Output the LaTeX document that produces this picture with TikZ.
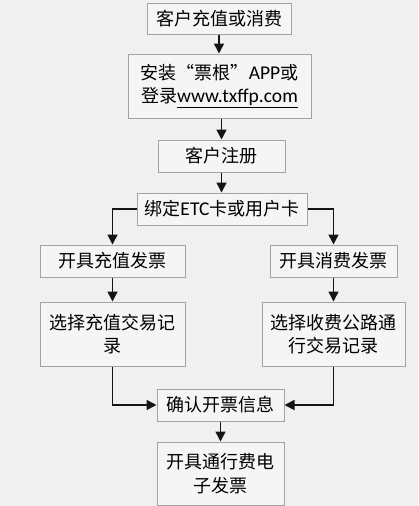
\documentclass[tikz,border=0pt]{standalone}
\usepackage{fontspec}
\setmainfont{Noto Sans CJK SC}
\newfontfamily\lat{Carlito}
\usetikzlibrary{arrows.meta}
\definecolor{bgc}{HTML}{F0F0F0}
\definecolor{boxfill}{HTML}{F5F5F5}
\definecolor{boxline}{HTML}{A3A3A3}
\definecolor{arrc}{HTML}{141414}
\tikzset{
  box/.style={draw=boxline, fill=boxfill, line width=1pt, inner sep=0pt, align=center,
    font=\fontsize{18}{23.5}\selectfont, text=black},
  arr/.style={draw=arrc, line width=1.6pt, -{Triangle[width=10pt,length=10pt]}},
}
\newcommand{\latin}[1]{{\lat\fontsize{19.5}{23.5}\selectfont #1}}
\begin{document}
\begin{tikzpicture}[x=1pt,y=-1pt]
\fill[bgc] (0,0) rectangle (418,506);
\useasboundingbox (0,0) rectangle (418,506);
\node[box, minimum width=144pt, minimum height=31pt] (b1) at (219,18.5) {客户充值或消费};
\node[box, minimum width=183pt, minimum height=64pt] (b2) at (219.5,86) {安装“票根”\latin{APP}或\\登录\underline{\latin{www.txffp.com}}};
\node[box, minimum width=127pt, minimum height=32pt] (b3) at (221.5,156) {客户注册};
\node[box, minimum width=170pt, minimum height=32pt] (b4) at (222,209) {绑定\latin{ETC}卡或用户卡};
\node[box, minimum width=145pt, minimum height=32pt] (b5) at (112.5,261) {开具充值发票};
\node[box, minimum width=127pt, minimum height=32pt] (b6) at (333.5,261) {开具消费发票};
\node[box, minimum width=145pt, minimum height=64pt] (b7) at (112.5,334) {选择充值交易记\\录};
\node[box, minimum width=143pt, minimum height=64pt] (b8) at (333.5,334) {选择收费公路通\\行交易记录};
\node[box, minimum width=127pt, minimum height=32pt] (b9) at (220.5,405) {确认开票信息};
\node[box, minimum width=127pt, minimum height=63pt] (b10) at (220.5,473.5) {开具通行费电\\子发票};
\draw[arr] (b1.south) -- (b2.north -| b1.south);
\draw[arr] (b2.south -| b3.north) -- (b3.north);
\draw[arr] (b3.south) -- (b4.north -| b3.south);
\draw[arr] (b4.west) -| (b5.north);
\draw[arr] (b4.east) -| (b6.north);
\draw[arr] (b5.south) -- (b7.north);
\draw[arr] (b6.south) -- (b8.north);
\draw[arr] (b7.south) |- (b9.west);
\draw[arr] (b8.south) |- (b9.east);
\draw[arr] (b9.south) -- (b10.north);
\end{tikzpicture}
\end{document}
